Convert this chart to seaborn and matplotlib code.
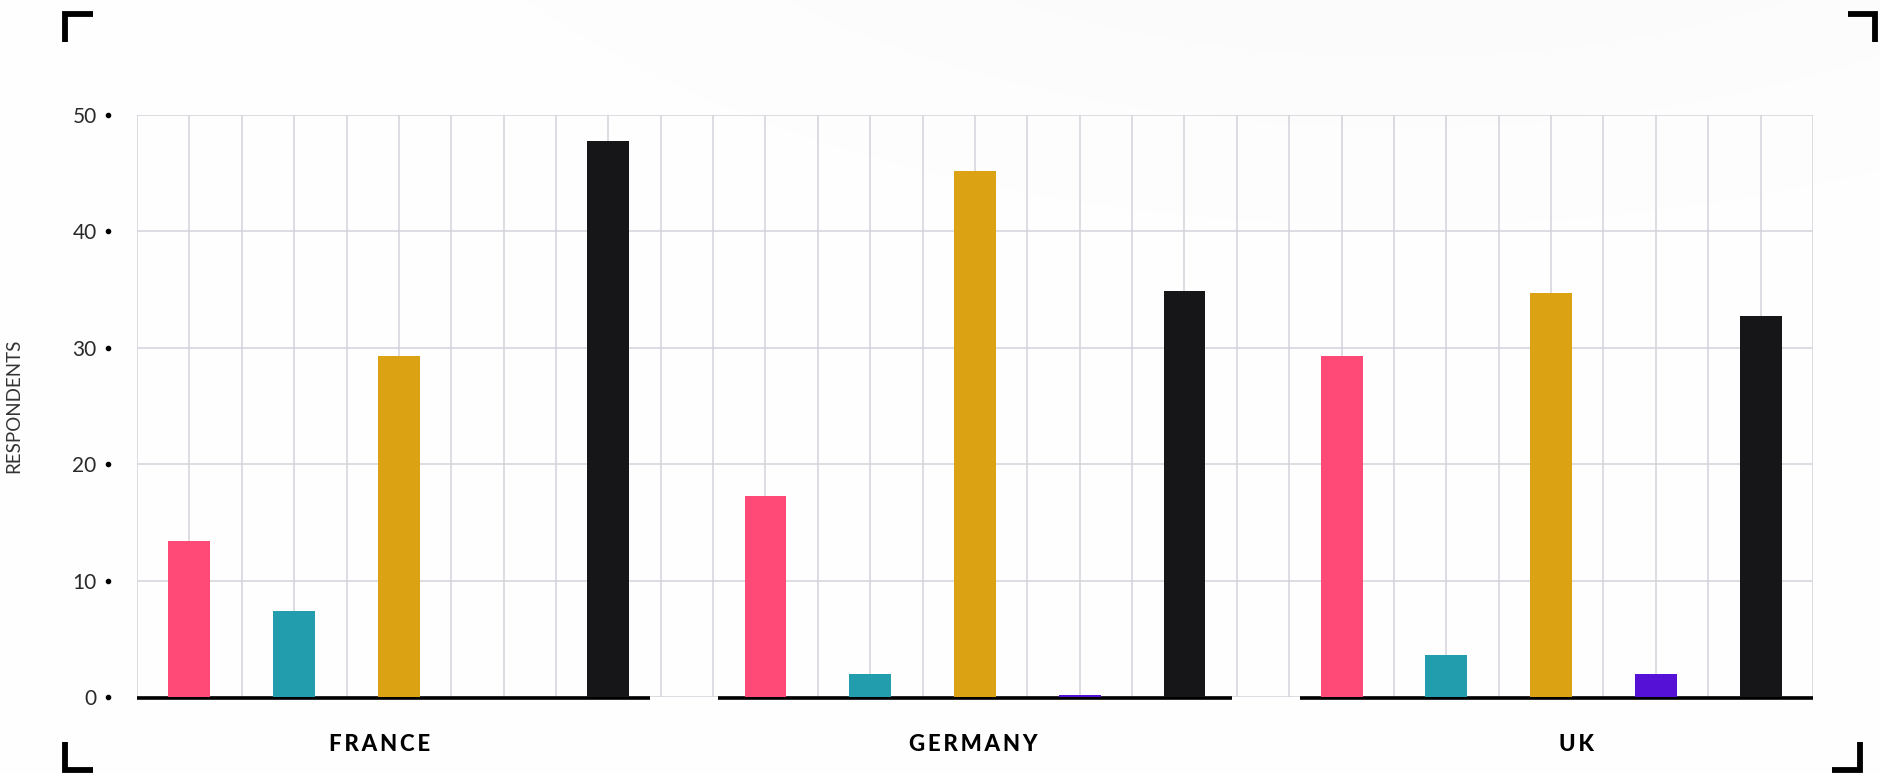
import numpy as np
import pandas as pd
import seaborn as sns
import matplotlib.pyplot as plt
from matplotlib import transforms

# data
countries = ["FRANCE", "GERMANY", "UK"]
answers = ["Answer 1", "Answer 2", "Answer 3", "Answer 4", "Answer 5"]
france = [13.4, 7.4, 29.3, 0.0, 47.8]
germany = [17.3, 2.0, 45.2, 0.15, 34.9]
uk = [29.3, 3.6, 34.7, 2.0, 32.7]
y_ticks = [0, 10, 20, 30, 40, 50]

colors = ["#FF4A78", "#229DAD", "#DBA313", "#5511D6", "#161618"]
grid_color = "#D2D2DA"

# 构建长表：每组 11 个格位，柱子放在奇数格
rows = []
for g, (country, vals) in enumerate(zip(countries, [france, germany, uk])):
    for i, (ans, v) in enumerate(zip(answers, vals)):
        rows.append({"country": country, "answer": ans, "pos": 1 + 11 * g + 2 * i, "value": v})
df = pd.DataFrame(rows)

sns.set_theme(style="white")
plt.rcParams["font.family"] = ["Lato", "DejaVu Sans"]

W, H = 1881, 773
fig = plt.figure(figsize=(W / 100, H / 100), dpi=100)

# 背景：右上角淡灰色光晕 + 四角括号
bg = fig.add_axes([0, 0, 1, 1], zorder=-1)
bg.set_xlim(0, W)
bg.set_ylim(H, 0)
bg.axis("off")
yy, xx = np.mgrid[0:H:2, 0:W:2]
d = ((xx - 1400) / 850.0) ** 2 + ((yy + 300) / 420.0) ** 2
shade = 1 - 0.03 * np.exp(-d * 1.3)
img = np.dstack([shade, shade, shade])
bg.imshow(img, extent=(0, W, H, 0), aspect="auto", interpolation="bilinear")
lw_br = 4.2
for path in [[(93, 14), (65, 14), (65, 42)],
             [(1848, 14), (1875, 14), (1875, 42)],
             [(65, 742), (65, 770), (93, 770)],
             [(1832, 770), (1860, 770), (1860, 742)]]:
    px, py = zip(*path)
    bg.plot(px, py, color="black", lw=lw_br, solid_joinstyle="miter", solid_capstyle="butt")

ax = fig.add_axes([137 / W, 1 - 697 / H, (1813 - 137) / W, (697 - 115) / H])
ax.set_facecolor("none")

sns.barplot(data=df, x="pos", y="value", hue="answer", palette=colors, native_scale=True,
            dodge=False, width=0.4, saturation=1, legend=False, ax=ax, zorder=3,
            linewidth=0, edgecolor="none")

n_slots = 11 * len(countries) - 1
ax.set_xlim(0, n_slots)
ax.set_ylim(0, 50)
ax.set_xticks(np.arange(0, n_slots + 1))
ax.set_xticklabels([])
ax.set_yticks(y_ticks)
ax.set_yticklabels([str(v) for v in y_ticks], fontsize=15, fontweight="normal", color="#2A2A2A")
ax.tick_params(axis="both", length=0)
ax.tick_params(axis="y", pad=29)
ax.grid(True, color=grid_color, lw=1.1, zorder=0)
ax.set_axisbelow(True)
for s in ax.spines.values():
    s.set_visible(False)
ax.set_xlabel("")
ax.set_ylabel("RESPONDENTS", fontsize=13.5, fontweight="normal", color="#333333", labelpad=36)

# y 轴刻度旁的小圆点
trans = transforms.blended_transform_factory(ax.transAxes, ax.transData)
ax.scatter(np.full(len(y_ticks), -0.0173), y_ticks, s=9, color="black", transform=trans,
           clip_on=False, zorder=5)

# 每组底部黑线和组名
label_x = [4.63, 15.96, 27.48]
for g, country in enumerate(countries):
    start = g * 11.1
    ax.plot([start, start + 9.8], [-0.05, -0.05], color="black", lw=2.6, solid_capstyle="butt",
            clip_on=False, zorder=2)
    ax.text(label_x[g], -4.1, "\u2009".join(country), ha="center", va="center", fontsize=16,
            fontweight="black", color="black")

fig.savefig("out.png", dpi=100)
